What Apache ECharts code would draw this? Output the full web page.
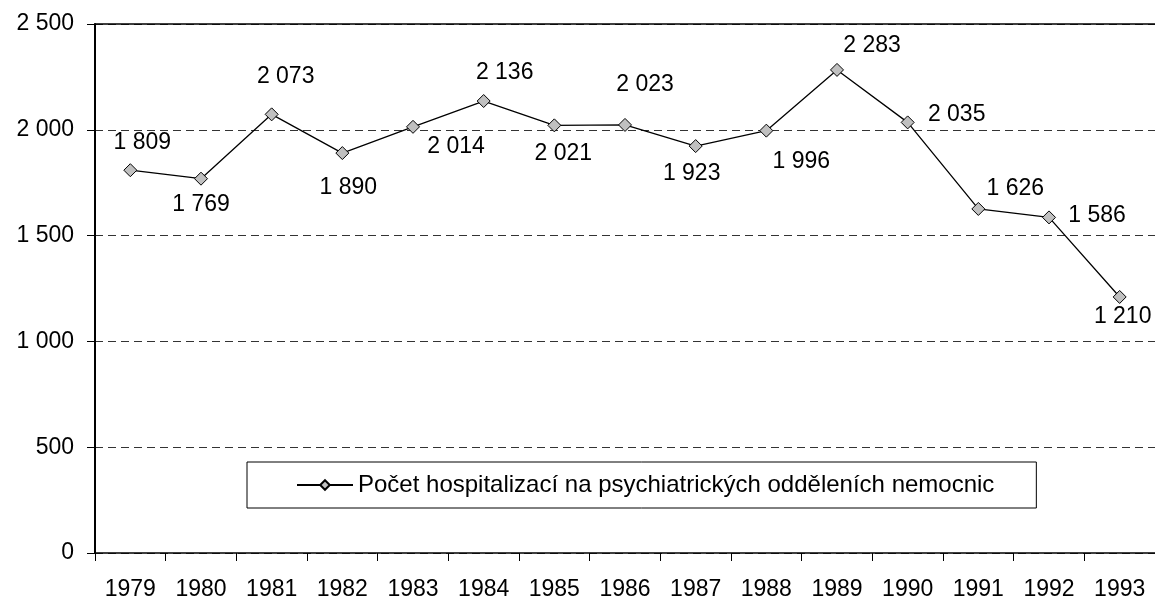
<!DOCTYPE html>
<html>
<head>
<meta charset="utf-8">
<script src="https://cdn.jsdelivr.net/npm/echarts@6/dist/echarts.min.js"></script>
<style>
  html, body { margin: 0; padding: 0; background: #fff; }
  #chart { width: 1155px; height: 601px; }
</style>
</head>
<body>
<div id="chart"></div>
<script>
// Hospitalisations in psychiatric wards, by year
const years = ['1979', '1980', '1981', '1982', '1983', '1984', '1985', '1986',
               '1987', '1988', '1989', '1990', '1991', '1992', '1993'];
const hospitalizations = [1809, 1769, 2073, 1890, 2014, 2136, 2021, 2023,
                          1923, 1996, 2283, 2035, 1626, 1586, 1210];
const seriesName = 'Počet hospitalizací na psychiatrických odděleních nemocnic';
const yTicks = [0, 500, 1000, 1500, 2000, 2500];

// Label placement around each marker (pixels from the marker centre)
const labelNudges = [[12, -28], [0, 26], [14, -38], [6, 35], [43, 20],
                     [21, -28], [9, 28], [20, -40], [-4, 28], [35, 31],
                     [35, -24], [49, -8], [37, -20], [48, -2], [3, 20]];

const FONT = '"Liberation Sans", Arial, sans-serif';
const FS = 23;

function spaced(v) {
  return String(v).replace(/\B(?=(\d{3})+(?!\d))/g, ' ');
}

const chart = echarts.init(document.getElementById('chart'), null, { renderer: 'canvas' });

chart.setOption({
  animation: false,
  backgroundColor: '#ffffff',
  textStyle: { fontFamily: FONT },
  grid: { left: 95, right: 0, top: 24, bottom: 47 },
  legend: {
    left: 247,
    top: 462,
    padding: [11, 42, 11, 49],
    borderColor: '#000',
    borderWidth: 1,
    itemWidth: 56,
    itemHeight: 12,
    textStyle: { fontFamily: FONT, fontSize: 24, color: '#000' },
    data: [seriesName]
  },
  xAxis: [{
    type: 'category',
    data: years,
    boundaryGap: true,
    axisLine: { lineStyle: { color: '#000', width: 1.5 } },
    axisTick: { show: true, length: 8, alignWithLabel: false, lineStyle: { color: '#000', width: 1 } },
    axisLabel: { fontFamily: FONT, fontSize: FS, color: '#000', margin: 25, interval: 0 },
    splitLine: { show: false }
  }, {
    type: 'category',
    data: years,
    position: 'top',
    axisLine: { show: true, lineStyle: { color: '#000', width: 1.5 } },
    axisTick: { show: false },
    axisLabel: { show: false },
    splitLine: { show: false }
  }],
  yAxis: {
    type: 'value',
    min: yTicks[0],
    max: yTicks[yTicks.length - 1],
    interval: yTicks[1] - yTicks[0],
    axisLine: { show: true, lineStyle: { color: '#000', width: 2 } },
    axisTick: { show: true, length: 8, lineStyle: { color: '#000', width: 1 } },
    axisLabel: {
      fontFamily: FONT, fontSize: FS, color: '#000', margin: 21,
      formatter: spaced
    },
    splitLine: { show: true, lineStyle: { color: '#333', width: 1, type: [8, 5] } }
  },
  series: [{
    name: seriesName,
    type: 'line',
    xAxisIndex: 0,
    data: hospitalizations,
    symbol: 'diamond',
    symbolSize: 13,
    lineStyle: { color: '#000', width: 1.3 },
    itemStyle: { color: '#c0c0c0', borderColor: '#000', borderWidth: 1 },
    label: {
      show: true,
      position: 'inside',
      align: 'center',
      verticalAlign: 'middle',
      fontFamily: FONT,
      fontSize: FS,
      color: '#000',
      formatter: p => spaced(p.value)
    },
    labelLayout: p => ({
      dx: labelNudges[p.dataIndex][0],
      dy: labelNudges[p.dataIndex][1],
      hideOverlap: false
    }),
    z: 3
  }]
});
</script>
</body>
</html>
